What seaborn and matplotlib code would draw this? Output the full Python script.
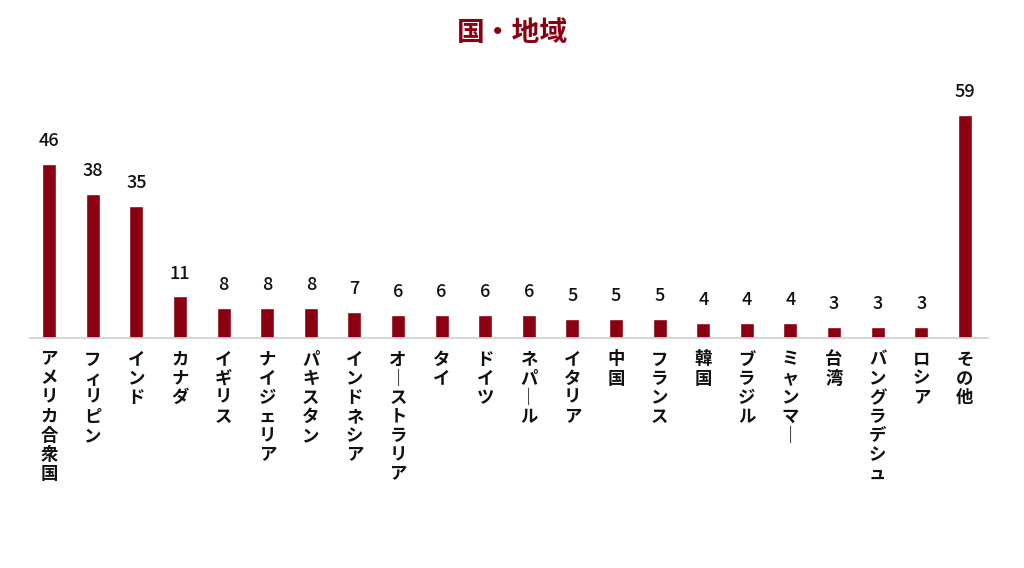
import numpy as np
import pandas as pd
import matplotlib
matplotlib.use("Agg")
import matplotlib.pyplot as plt
import seaborn as sns

# データ
countries = ["アメリカ合衆国", "フィリピン", "インド", "カナダ", "イギリス", "ナイジェリア",
             "パキスタン", "インドネシア", "オーストラリア", "タイ", "ドイツ", "ネパール",
             "イタリア", "中国", "フランス", "韓国", "ブラジル", "ミャンマー", "台湾",
             "バングラデシュ", "ロシア", "その他"]
counts = [46, 38, 35, 11, 8, 8, 8, 7, 6, 6, 6, 6, 5, 5, 5, 4, 4, 4, 3, 3, 3, 59]
title = "国・地域"

BAR_COLOR = "#8B0010"

sns.set_theme(style="white")
plt.rcParams['font.family'] = ['Noto Sans CJK JP', 'DejaVu Sans']

df = pd.DataFrame({"country": countries, "count": counts})

fig = plt.figure(figsize=(10.24, 5.68), dpi=100)
ax = fig.add_axes([30 / 1024, 1 - 338 / 568, 958 / 1024, 250 / 568])

sns.barplot(data=df, x="country", y="count", color=BAR_COLOR, width=0.32,
            saturation=1, ax=ax)

ax.set_xlim(-0.44, 21.53)
ax.set_ylim(0, 250 / (223 / 59))

# 値ラベル
for c in ax.containers:
    ax.bar_label(c, padding=10, fontsize=13, fontweight="medium", color="#111111")

# 縦書きラベル（長音は縦棒に）
def tategaki(s):
    return "\n".join(ch if ch != "ー" else "｜" for ch in s)

ax.set_xticks(range(len(countries)))
ax.set_xticklabels([tategaki(c) for c in countries], fontsize=12.5,
                   fontweight="bold", linespacing=1.08, va="top",
                   ha="center", color="#111111")
ax.tick_params(axis="x", length=0, pad=9)
ax.set_yticks([])
ax.set_xlabel("")
ax.set_ylabel("")

for side in ["top", "right", "left"]:
    ax.spines[side].set_visible(False)
ax.spines["bottom"].set_color("#d0d0d0")
ax.spines["bottom"].set_linewidth(1.2)

fig.text(0.5, 1 - 33 / 568, title, ha="center", va="center", fontsize=20,
         fontweight="bold", color=BAR_COLOR)

fig.savefig("out.png", dpi=100, facecolor="white")
